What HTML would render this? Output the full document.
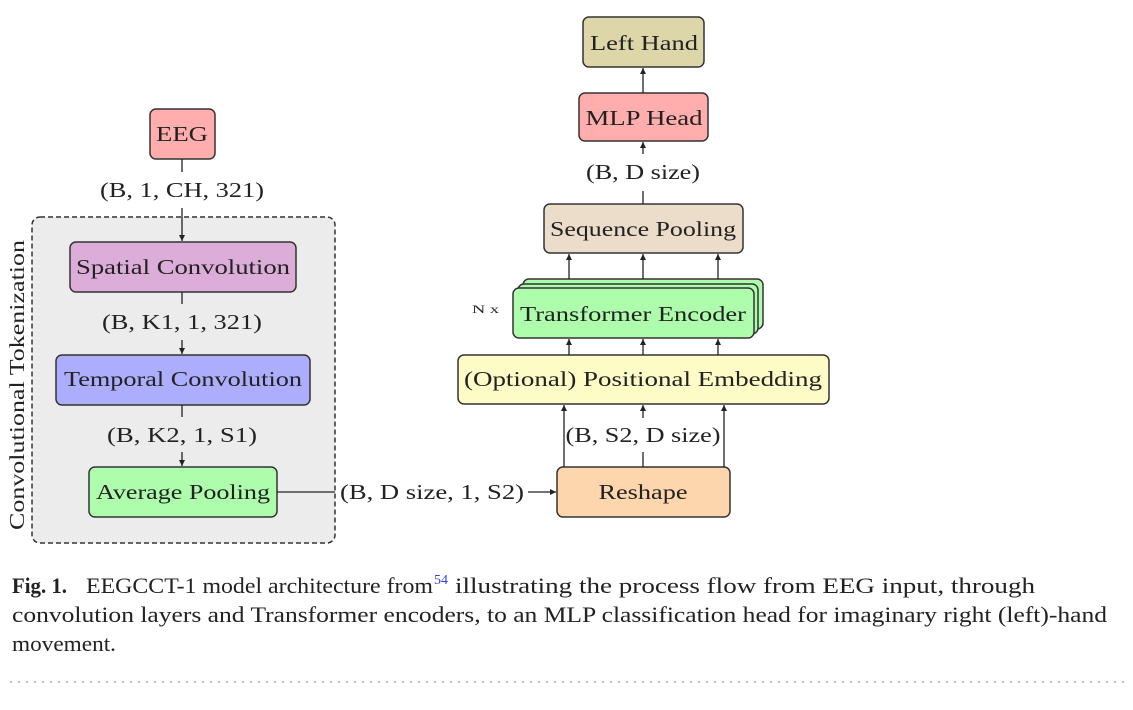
<!DOCTYPE html>
<html><head><meta charset="utf-8"><style>
html,body{margin:0;padding:0;background:#fff;}
svg{display:block;}
text{font-family:"Liberation Serif",serif;fill:#222;}
</style></head><body>
<svg width="1133" height="710" viewBox="0 0 1133 710" xmlns="http://www.w3.org/2000/svg">
<defs>
<marker id="a" markerWidth="8" markerHeight="8" refX="7" refY="4" orient="auto" markerUnits="userSpaceOnUse">
<path d="M1,1 L7,4 L1,7 Z" fill="#222"/>
</marker>
</defs>
<g stroke="#333" stroke-width="1.5">
<rect x="32" y="217" width="303" height="326" rx="8" fill="#ececec" stroke-dasharray="5,3"/>
<rect x="150" y="109" width="65" height="50" rx="6" fill="#ffadad"/>
<rect x="70" y="242" width="226" height="50" rx="6" fill="#dcadd8"/>
<rect x="56" y="355" width="254" height="50" rx="6" fill="#adadfd"/>
<rect x="89" y="467" width="188" height="50" rx="6" fill="#adfdad"/>
<rect x="583" y="17" width="121" height="50" rx="6" fill="#dcd6a9"/>
<rect x="579" y="93" width="129" height="48" rx="6" fill="#ffadad"/>
<rect x="544" y="204" width="199" height="49" rx="6" fill="#ecdcca"/>
<rect x="523" y="279" width="240" height="50" rx="6" fill="#adfdad"/>
<rect x="518" y="284" width="240" height="50" rx="6" fill="#adfdad"/>
<rect x="513" y="288" width="241" height="50" rx="6" fill="#adfdad"/>
<rect x="458" y="355" width="371" height="49" rx="6" fill="#fdfbc6"/>
<rect x="557" y="467" width="173" height="50" rx="6" fill="#fdd6ad"/>
</g>
<g stroke="#222" stroke-width="1.3" fill="none">
<line x1="182" y1="159" x2="182" y2="172"/>
<line x1="182" y1="208" x2="182" y2="241" marker-end="url(#a)"/>
<line x1="182" y1="292" x2="182" y2="304"/>
<line x1="182" y1="340" x2="182" y2="354" marker-end="url(#a)"/>
<line x1="182" y1="405" x2="182" y2="417"/>
<line x1="182" y1="452" x2="182" y2="466" marker-end="url(#a)"/>
<line x1="277" y1="492" x2="335" y2="492"/>
<line x1="528" y1="492" x2="556" y2="492" marker-end="url(#a)"/>
<line x1="564" y1="467" x2="564" y2="405" marker-end="url(#a)"/>
<line x1="724" y1="467" x2="724" y2="405" marker-end="url(#a)"/>
<line x1="643" y1="467" x2="643" y2="452"/>
<line x1="643" y1="418" x2="643" y2="405" marker-end="url(#a)"/>
<line x1="569" y1="355" x2="569" y2="339" marker-end="url(#a)"/>
<line x1="643" y1="355" x2="643" y2="339" marker-end="url(#a)"/>
<line x1="718" y1="355" x2="718" y2="339" marker-end="url(#a)"/>
<line x1="569" y1="279" x2="569" y2="254" marker-end="url(#a)"/>
<line x1="643" y1="279" x2="643" y2="254" marker-end="url(#a)"/>
<line x1="718" y1="279" x2="718" y2="254" marker-end="url(#a)"/>
<line x1="643" y1="204" x2="643" y2="191"/>
<line x1="643" y1="154" x2="643" y2="142" marker-end="url(#a)"/>
<line x1="643" y1="93" x2="643" y2="68" marker-end="url(#a)"/>
</g>
<g font-size="21" text-anchor="middle">
<text x="182" y="141" textLength="52" lengthAdjust="spacingAndGlyphs">EEG</text>
<text x="182" y="197" textLength="164" lengthAdjust="spacingAndGlyphs">(B, 1, CH, 321)</text>
<text x="183" y="274" textLength="214" lengthAdjust="spacingAndGlyphs">Spatial Convolution</text>
<text x="182" y="329" textLength="160" lengthAdjust="spacingAndGlyphs">(B, K1, 1, 321)</text>
<text x="183" y="386" textLength="238" lengthAdjust="spacingAndGlyphs">Temporal Convolution</text>
<text x="182" y="442" textLength="150" lengthAdjust="spacingAndGlyphs">(B, K2, 1, S1)</text>
<text x="183" y="499" textLength="174" lengthAdjust="spacingAndGlyphs">Average Pooling</text>
<text x="432" y="499" textLength="184" lengthAdjust="spacingAndGlyphs">(B, D size, 1, S2)</text>
<text x="644" y="50" textLength="108" lengthAdjust="spacingAndGlyphs">Left Hand</text>
<text x="644" y="125" textLength="117" lengthAdjust="spacingAndGlyphs">MLP Head</text>
<text x="643" y="179" textLength="114" lengthAdjust="spacingAndGlyphs">(B, D size)</text>
<text x="643" y="236" textLength="186" lengthAdjust="spacingAndGlyphs">Sequence Pooling</text>
<text x="633" y="321" textLength="226" lengthAdjust="spacingAndGlyphs">Transformer Encoder</text>
<text x="643" y="386" textLength="358" lengthAdjust="spacingAndGlyphs">(Optional) Positional Embedding</text>
<text x="643" y="442" textLength="155" lengthAdjust="spacingAndGlyphs">(B, S2, D size)</text>
<text x="643" y="499" textLength="89" lengthAdjust="spacingAndGlyphs">Reshape</text>
<text transform="translate(24,385) rotate(-90)" textLength="290" lengthAdjust="spacingAndGlyphs">Convolutional Tokenization</text>
</g>
<text x="472" y="313" font-size="12" textLength="27" lengthAdjust="spacingAndGlyphs">N x</text>
<g font-size="22">
<text x="12" y="593" font-weight="bold" textLength="55" lengthAdjust="spacingAndGlyphs">Fig. 1.</text>
<text x="86" y="593" textLength="347" lengthAdjust="spacingAndGlyphs">EEGCCT-1 model architecture from</text>
<text x="434" y="584" font-size="14" style="fill:#3344dd" textLength="14" lengthAdjust="spacingAndGlyphs">54</text>
<text x="455" y="593" textLength="580" lengthAdjust="spacingAndGlyphs">illustrating the process flow from EEG input, through</text>
<text x="12" y="622" textLength="1095" lengthAdjust="spacingAndGlyphs">convolution layers and Transformer encoders, to an MLP classification head for imaginary right (left)-hand</text>
<text x="12" y="651" textLength="104" lengthAdjust="spacingAndGlyphs">movement.</text>
</g>
<line x1="10" y1="682" x2="1125" y2="682" stroke="#b8c4d0" stroke-width="2" stroke-dasharray="2,6"/>
</svg>
</body></html>
